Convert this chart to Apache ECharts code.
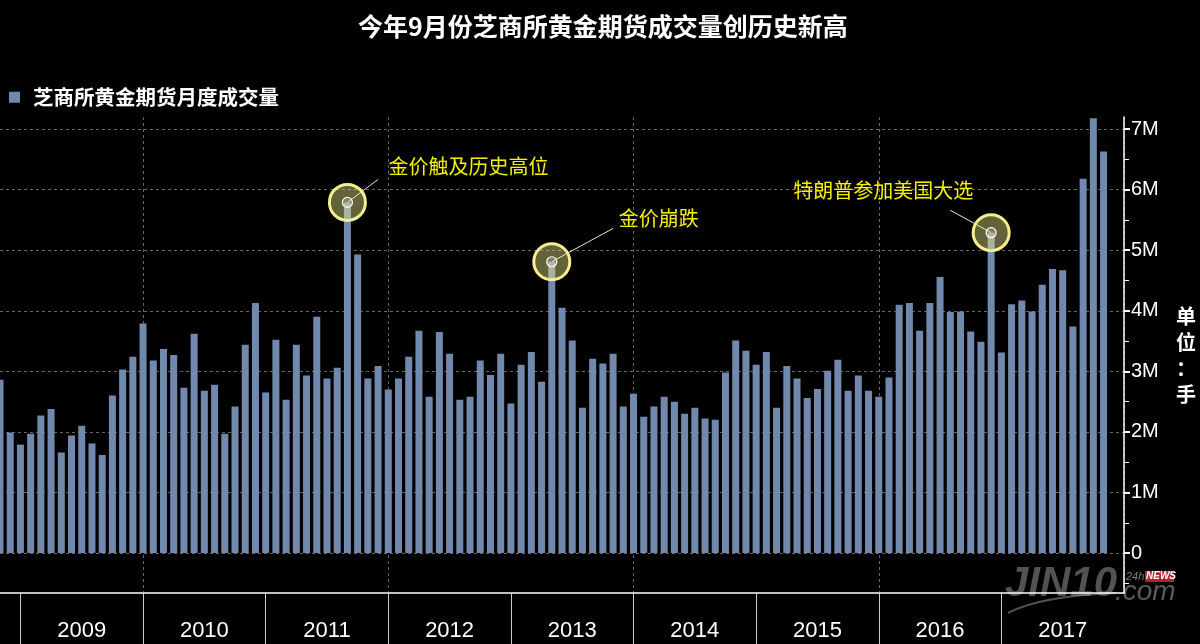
<!DOCTYPE html>
<html>
<head>
<meta charset="utf-8">
<script src="https://cdn.jsdelivr.net/npm/echarts@6/dist/echarts.min.js"></script>
<style>
html, body { margin: 0; background: #000; }
#chart { width: 1200px; height: 644px; }
</style>
</head>
<body>
<div id="chart"></div>
<script>
// 月份类目：2008-10 至 2017-12
const months = [];
for (let y = 2008; y <= 2017; y++) {
  for (let m = 1; m <= 12; m++) {
    if (y === 2008 && m < 10) continue;
    months.push(y + '-' + String(m).padStart(2, '0'));
  }
}
const lastMonth = months[months.length - 1];

// 芝商所黄金期货月度成交量（百万手），2008-10 起
const volume = [
  2.86, 1.99, 1.79,
  1.97, 2.27, 2.38, 1.66, 1.94, 2.10, 1.81, 1.62, 2.60, 3.03, 3.24, 3.79,
  3.18, 3.37, 3.27, 2.73, 3.62, 2.68, 2.78, 1.97, 2.42, 3.44, 4.13, 2.65,
  3.52, 2.53, 3.44, 2.93, 3.90, 2.88, 3.06, 5.79, 4.93, 2.88, 3.09, 2.70,
  2.88, 3.24, 3.67, 2.58, 3.65, 3.29, 2.53, 2.58, 3.18, 2.94, 3.29, 2.47,
  3.11, 3.32, 2.83, 4.81, 4.05, 3.51, 2.40, 3.21, 3.13, 3.29, 2.42, 2.63,
  2.25, 2.42, 2.58, 2.50, 2.30, 2.40, 2.22, 2.20, 2.98, 3.51, 3.34, 3.11,
  3.32, 2.40, 3.09, 2.88, 2.56, 2.71, 3.01, 3.19, 2.68, 2.93, 2.68, 2.58,
  2.90, 4.10, 4.13, 3.67, 4.13, 4.56, 3.98, 3.99, 3.66, 3.49, 5.29, 3.31,
  4.11, 4.17, 3.99, 4.43, 4.69, 4.67, 3.74, 6.18, 7.18, 6.63
];

const yTicks = [0, 1, 2, 3, 4, 5, 6, 7];
const yMinorTicks = [-0.5, 0.5, 1.5, 2.5, 3.5, 4.5, 5.5, 6.5];

// 标注事件
const notes = [
  { month: '2011-08', text: '金价触及历史高位' },
  { month: '2013-04', text: '金价崩跌' },
  { month: '2016-11', text: '特朗普参加美国大选' }
];
// 标注文字偏移与引线终点（数据坐标）
const noteLayout = [
  { offset: [41, -36], align: 'left', lineEnd: ['2011-11', 6.17] },
  { offset: [67, -43], align: 'left', lineEnd: ['2013-10', 5.36] },
  { offset: [-18, -42], align: 'right', lineEnd: ['2016-07', 5.66] }
];

const valueOf = m => volume[months.indexOf(m)];
const cjk = 'Noto Sans CJK SC';

const bigCircles = notes.map((n, i) => ({
  coord: [n.month, valueOf(n.month)],
  symbolSize: 36,
  itemStyle: { color: 'rgba(250,245,140,0.4)', borderColor: '#f3ef8c', borderWidth: 3 },
  label: {
    show: true,
    position: 'inside',
    formatter: n.text,
    align: noteLayout[i].align,
    verticalAlign: 'middle',
    offset: noteLayout[i].offset,
    color: '#f5f200',
    fontSize: 20,
    fontFamily: cjk
  }
}));
const smallCircles = notes.map(n => ({
  coord: [n.month, valueOf(n.month)],
  symbolSize: 10,
  itemStyle: { color: 'rgba(200,200,200,0.3)', borderColor: '#fff', borderWidth: 1.2 },
  label: { show: false }
}));
const leaders = notes.map((n, i) => [
  { coord: [n.month, valueOf(n.month)] },
  { coord: noteLayout[i].lineEnd }
]);

const chart = echarts.init(document.getElementById('chart'));
chart.setOption({
  backgroundColor: '#000',
  animation: false,
  title: {
    text: '今年9月份芝商所黄金期货成交量创历史新高',
    left: 353,
    top: 9,
    textStyle: { color: '#fff', fontSize: 25, fontWeight: 'bold', fontFamily: cjk }
  },
  legend: {
    left: 9,
    top: 87,
    padding: 0,
    icon: 'rect',
    itemWidth: 11,
    itemHeight: 11,
    textStyle: { color: '#fff', fontSize: 20.5, fontWeight: 'bold', fontFamily: cjk, padding: [0, 0, 0, 8] },
    data: ['芝商所黄金期货月度成交量']
  },
  grid: { left: 0, right: 76, top: 117, bottom: 51 },
  xAxis: [
    {
      type: 'category',
      data: months,
      boundaryGap: false,
      axisLine: { show: false },
      axisTick: { show: false },
      axisLabel: { show: false },
      splitLine: {
        show: true,
        interval: (i, v) => v.slice(5) === '12' && +v.slice(0, 4) % 2 === 1,
        lineStyle: { color: '#666', type: [3, 3], width: 1 }
      }
    },
    {
      type: 'category',
      data: months,
      boundaryGap: false,
      position: 'bottom',
      axisLine: { show: true, onZero: false, lineStyle: { color: '#fff', width: 1.5 } },
      axisTick: {
        show: true,
        interval: (i, v) => v.slice(5) === '12' && v !== lastMonth,
        length: 52,
        lineStyle: { color: '#ccc', width: 1 }
      },
      axisLabel: {
        show: true,
        interval: (i, v) => v.slice(5) === '06',
        formatter: v => v.slice(0, 4),
        color: '#fff',
        fontSize: 22,
        fontFamily: 'Liberation Sans',
        margin: 27
      },
      splitLine: { show: false }
    }
  ],
  yAxis: [
    {
      type: 'value',
      position: 'right',
      min: -0.66,
      max: 7.2,
      axisLine: { show: true, lineStyle: { color: '#fff', width: 1.5 } },
      axisTick: { show: true, customValues: yTicks, length: 6, lineStyle: { color: '#fff', width: 2 } },
      axisLabel: {
        customValues: yTicks,
        formatter: v => (v === 0 ? '0' : v + 'M'),
        color: '#fff',
        fontSize: 20,
        fontFamily: 'Liberation Sans',
        margin: 7
      },
      splitLine: { show: true, lineStyle: { color: '#666', type: [3, 3], width: 1 } },
      name: '单\n位\n：\n手',
      nameLocation: 'middle',
      nameRotate: 0,
      nameGap: 62,
      nameTextStyle: {
        color: '#fff', fontSize: 20, fontWeight: 'bold', fontFamily: cjk,
        lineHeight: 26, align: 'center', verticalAlign: 'middle'
      }
    },
    {
      type: 'value',
      position: 'right',
      min: -0.66,
      max: 7.2,
      axisLine: { show: false },
      axisTick: { show: true, customValues: yMinorTicks, length: 5, lineStyle: { color: '#fff', width: 1 } },
      axisLabel: { show: false },
      splitLine: { show: false }
    }
  ],
  series: [
    {
      name: '芝商所黄金期货月度成交量',
      type: 'bar',
      xAxisIndex: 0,
      yAxisIndex: 0,
      data: volume,
      barWidth: 7,
      itemStyle: { color: '#7089ac' },
      markLine: {
        silent: true,
        symbol: 'none',
        label: { show: false },
        lineStyle: { color: '#e6e6e6', width: 1, type: 'solid' },
        data: leaders
      },
      markPoint: {
        silent: true,
        symbol: 'circle',
        data: bigCircles.concat(smallCircles)
      }
    }
  ],
  graphic: [
    {
      type: 'bezierCurve',
      shape: { x1: 1008, y1: 613, cpx1: 1040, cpy1: 596, x2: 1116, y2: 593 },
      style: { stroke: 'rgba(150,150,150,0.55)', lineWidth: 2, fill: null }
    },
    {
      type: 'text', left: 1005, top: 563,
      style: { text: 'JIN10', fill: 'rgba(150,150,150,0.55)', font: 'italic bold 42px "Liberation Sans"' }
    },
    {
      type: 'text', left: 1115, top: 578,
      style: { text: '.com', fill: 'rgba(150,150,150,0.6)', font: 'italic 28px "Liberation Sans"' }
    },
    {
      type: 'text', left: 1126, top: 571,
      style: { text: '24h', fill: 'rgba(180,180,180,0.7)', font: 'italic 11px "Liberation Sans"' }
    },
    {
      type: 'rect', left: 1145, top: 571, shape: { width: 29, height: 11 },
      style: { fill: '#b0252a' }
    },
    {
      type: 'text', left: 1146, top: 571,
      style: { text: 'NEWS', fill: '#fff', font: 'italic bold 10px "Liberation Sans"' }
    }
  ]
});
</script>
</body>
</html>
